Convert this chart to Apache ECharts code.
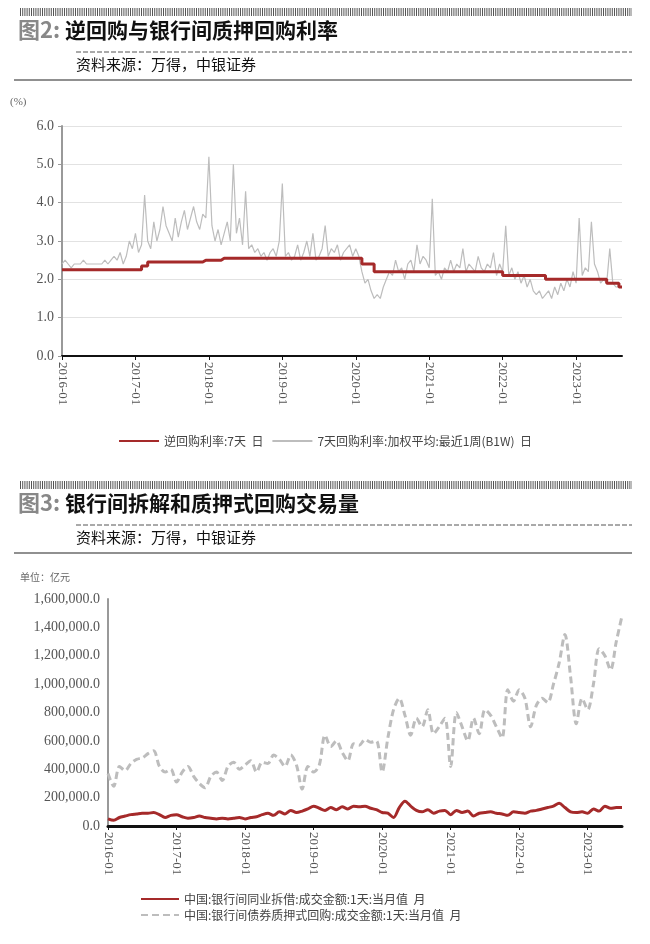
<!DOCTYPE html>
<html><head><meta charset="utf-8">
<script src="https://cdn.jsdelivr.net/npm/echarts@6/dist/echarts.min.js"></script>
<style>html,body{margin:0;padding:0;background:#fff}#c{width:650px;height:944px}</style>
</head><body><div id="c"></div>
<script>
// ---------- Chart 1 data (half-monthly, 2016-01 .. 2023-08) ----------
const rateYears = [2016,2017,2018,2019,2020,2021,2022,2023];
const repo7dWeighted = [
 2.4,2.5,2.4,2.3,2.4,2.4,2.4,2.5,2.4,2.4,2.4,2.4,2.4,2.4,2.5,2.4,2.5,2.6,2.5,2.7,2.4,2.6,3.0,2.8,
 3.2,2.7,2.9,4.2,3.0,2.8,3.5,3.0,3.3,3.9,3.4,3.2,3.0,3.6,3.1,3.5,3.8,3.3,3.6,3.9,3.5,3.3,3.7,3.6,
 5.2,3.4,3.0,3.3,2.9,3.2,3.5,3.0,5.0,3.2,3.6,2.9,4.3,2.8,2.9,2.7,2.8,2.6,2.7,2.5,2.7,2.8,2.6,3.0,
 4.5,2.6,2.7,2.5,2.6,2.9,2.5,2.7,3.0,2.6,3.2,2.5,2.6,2.8,3.4,2.6,2.8,2.7,2.9,2.5,2.7,2.8,2.9,2.6,
 2.8,2.6,2.2,1.9,2.0,1.7,1.5,1.6,1.5,1.8,2.0,2.2,2.1,2.5,2.2,2.3,2.0,2.4,2.5,2.2,2.9,2.4,2.6,2.5,
 2.3,4.1,2.1,2.2,2.0,2.3,2.2,2.5,2.2,2.4,2.3,2.8,2.2,2.4,2.3,2.2,2.6,2.3,2.2,2.4,2.3,2.7,2.1,2.4,
 2.2,3.4,2.1,2.3,2.0,2.2,1.9,2.1,1.8,2.0,1.7,1.6,1.7,1.5,1.6,1.7,1.5,1.8,1.6,1.9,1.7,2.0,1.8,2.2,
 1.9,3.6,2.1,2.3,2.2,3.5,2.4,2.2,1.9,2.0,1.9,2.8,1.9,1.8,1.8,1.8
];
const reverseRepoChangeDates = ['2016-01','2017-02','2017-03','2017-12','2018-03','2020-02','2020-04','2022-01','2022-08','2023-06','2023-08'];
const reverseRepoRates       = [2.25,2.35,2.45,2.50,2.55,2.40,2.20,2.10,2.00,1.90,1.80];
const rateTicks = [0,1,2,3,4,5,6];

// ---------- Chart 2 data (monthly, 2016-01 .. 2023-07), unit: 亿元 ----------
const interbankLending = [
 50,40,60,70,80,85,90,90,95,80,60,75,
 80,65,55,60,70,60,55,50,55,50,55,60,
 50,60,65,80,90,75,100,85,110,95,105,120,
 140,125,110,130,115,135,120,140,135,140,125,115,
 95,90,60,130,175,140,110,100,115,90,105,110,
 80,110,95,105,70,90,95,100,90,85,75,100,
 95,90,105,110,120,130,140,160,130,100,95,100,
 90,120,105,140,125,130,130
].map(v=>v*1000);
const pledgedRepo = [
 370,280,420,390,440,470,480,510,530,420,380,400,
 310,380,420,350,300,270,350,380,320,420,450,400,
 430,460,380,450,440,500,470,420,500,430,260,420,
 380,430,640,560,600,520,460,580,570,610,590,600,
 380,620,820,900,780,640,760,700,820,650,700,760,
 420,800,700,600,760,650,820,780,700,620,960,880,
 960,900,700,850,900,870,1000,1150,1350,1050,720,900,
 820,1000,1250,1200,1100,1300,1480
].map(v=>v*1000);

// ---------- build categories ----------
const halfMonths = [];
for (let y of rateYears) for (let m=1;m<=12;m++){ if (halfMonths.length>=repo7dWeighted.length) break;
  const s = y+'-'+String(m).padStart(2,'0'); halfMonths.push(s+'a'); if (halfMonths.length<repo7dWeighted.length) halfMonths.push(s+'b'); }
const months = [];
for (let y of rateYears) for (let m=1;m<=12;m++){ if (months.length<interbankLending.length) months.push(y+'-'+String(m).padStart(2,'0')); }
const reverseRepoSeries = halfMonths.map(c=>{ const ym=c.slice(0,7); let v=reverseRepoRates[0];
  reverseRepoChangeDates.forEach((d,i)=>{ if (ym>=d) v=reverseRepoRates[i]; }); return v; });

const serif = 'Liberation Serif';
const cjk = 'Noto Sans CJK SC';
const red = '#a52a2a', grey = '#bdbdbd';

function header(y, num, title){
  return [
    {type:'line', shape:{x1:20,y1:y,x2:632,y2:y}, style:{stroke:'#555',lineWidth:8,lineDash:[1,1.2]}},
    {type:'text', left:18, top:y+7, style:{rich:{a:{fill:'#888',font:'bold 22px '+cjk},b:{fill:'#111',font:'bold 21px '+cjk}}, text:'{a|'+num+'}{b|'+title+'}'}},
    {type:'line', shape:{x1:76,y1:y+40,x2:632,y2:y+40}, style:{stroke:'#555',lineWidth:1,lineDash:[5,2]}},
    {type:'text', left:76, top:y+45, style:{text:'资料来源：万得，中银证券', fill:'#111', font:'15px '+cjk}},
    {type:'line', shape:{x1:14,y1:y+68,x2:632,y2:y+68}, style:{stroke:'#222',lineWidth:1.2}}
  ];
}

const chart = echarts.init(document.getElementById('c'));
chart.setOption({
  animation:false,
  graphic:[...header(12,'图2: ','逆回购与银行间质押回购利率'), ...header(485,'图3: ','银行间拆解和质押式回购交易量'),
    {type:'text', left:10, top:97, style:{text:'(%)', fill:'#666', font:'11px '+serif}},
    {type:'text', left:20, top:572, style:{text:'单位：亿元', fill:'#666', font:'10px '+cjk}}
  ],
  grid:[{left:62,right:28,top:126,height:230},{left:108,right:28,top:599,height:227}],
  legend:[
    {top:430, left:'center', itemWidth:40, itemHeight:10, itemGap:8, itemStyle:{opacity:0},
     textStyle:{fontFamily:cjk,fontSize:12,color:'#444'},
     data:['逆回购利率:7天  日','7天回购利率:加权平均:最近1周(B1W)  日']},
    {orient:'vertical', top:888, left:135, itemWidth:38, itemHeight:10, itemGap:4, itemStyle:{opacity:0},
     textStyle:{fontFamily:cjk,fontSize:12,color:'#444'},
     data:['中国:银行间同业拆借:成交金额:1天:当月值  月','中国:银行间债券质押式回购:成交金额:1天:当月值  月']}
  ],
  xAxis:[
    {gridIndex:0,type:'category',data:halfMonths,boundaryGap:false,
     axisLine:{lineStyle:{color:'#111',width:2}},
     axisTick:{interval:(i)=>i%24===0,length:4,lineStyle:{color:'#111'}},
     axisLabel:{interval:(i)=>i%24===0,rotate:-90,formatter:v=>v.slice(0,7),fontFamily:serif,fontSize:13,color:'#555',margin:6}},
    {gridIndex:1,type:'category',data:months,boundaryGap:false,
     axisLine:{lineStyle:{color:'#111',width:3}},
     axisTick:{interval:(i)=>i%12===0,length:4,lineStyle:{color:'#111'}},
     axisLabel:{interval:(i)=>i%12===0,rotate:-90,fontFamily:serif,fontSize:13,color:'#555',margin:6}}
  ],
  yAxis:[
    {gridIndex:0,type:'value',min:0,max:6,interval:1,
     axisLine:{show:true,lineStyle:{color:'#999',width:2}},axisTick:{show:true,length:4,lineStyle:{color:'#999'}},
     splitLine:{lineStyle:{color:'#e2e2e2'}},
     axisLabel:{formatter:v=>v.toFixed(1),fontFamily:serif,fontSize:14,color:'#555'}},
    {gridIndex:1,type:'value',min:0,max:1600000,interval:200000,
     axisLine:{show:true,lineStyle:{color:'#999',width:2}},axisTick:{show:false},
     splitLine:{show:false},
     axisLabel:{formatter:v=>v.toLocaleString('en-US')+'.0',fontFamily:serif,fontSize:14,color:'#555'}}
  ],
  series:[
    {name:'7天回购利率:加权平均:最近1周(B1W)  日',type:'line',xAxisIndex:0,yAxisIndex:0,data:repo7dWeighted,
     symbol:'none',lineStyle:{color:grey,width:1.2},itemStyle:{color:grey}},
    {name:'逆回购利率:7天  日',type:'line',xAxisIndex:0,yAxisIndex:0,data:reverseRepoSeries,
     symbol:'none',step:'end',lineStyle:{color:red,width:3},itemStyle:{color:red}},
    {name:'中国:银行间同业拆借:成交金额:1天:当月值  月',type:'line',xAxisIndex:1,yAxisIndex:1,data:interbankLending,
     symbol:'none',smooth:0.3,lineStyle:{color:red,width:3},itemStyle:{color:red}},
    {name:'中国:银行间债券质押式回购:成交金额:1天:当月值  月',type:'line',xAxisIndex:1,yAxisIndex:1,data:pledgedRepo,
     symbol:'none',smooth:0.3,lineStyle:{color:grey,width:3,type:[7,4]},itemStyle:{color:grey}}
  ]
});
</script></body></html>
